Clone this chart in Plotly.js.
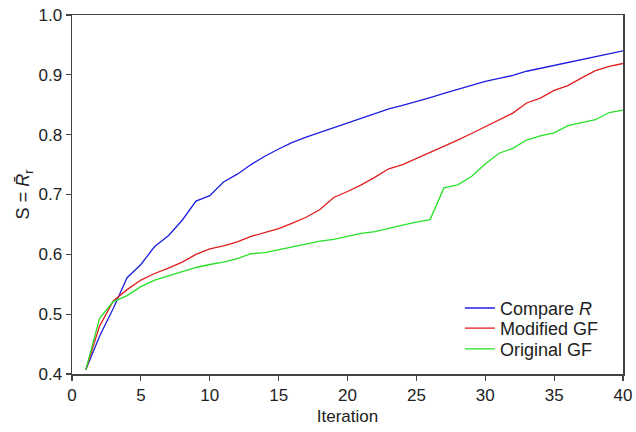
<!DOCTYPE html>
<html>
<head>
<meta charset="utf-8">
<script src="https://cdn.plot.ly/plotly-3.0.1.min.js"></script>
<style>html,body{margin:0;padding:0;background:#fff;}#chart{width:636px;height:432px;}</style>
</head>
<body>
<div id="chart"></div>
<script>
const iterations = [1,2,3,4,5,6,7,8,9,10,11,12,13,14,15,16,17,18,19,20,21,22,23,24,25,26,27,28,29,30,31,32,33,34,35,36,37,38,39,40];
const compareR = [0.407,0.463,0.510,0.561,0.583,0.613,0.631,0.657,0.689,0.698,0.721,0.734,0.750,0.764,0.776,0.787,0.796,0.804,0.812,0.820,0.828,0.835,0.843,0.849,0.855,0.862,0.869,0.876,0.883,0.889,0.894,0.899,0.906,0.911,0.916,0.921,0.926,0.930,0.935,0.940];
const modifiedGF = [0.407,0.480,0.522,0.541,0.557,0.568,0.577,0.587,0.600,0.609,0.614,0.621,0.630,0.636,0.643,0.652,0.662,0.675,0.695,0.705,0.716,0.729,0.743,0.750,0.760,0.771,0.781,0.791,0.802,0.813,0.825,0.836,0.853,0.861,0.874,0.882,0.895,0.907,0.914,0.919];
const originalGF = [0.407,0.493,0.521,0.531,0.546,0.557,0.564,0.571,0.578,0.583,0.587,0.593,0.601,0.603,0.608,0.612,0.618,0.622,0.625,0.630,0.635,0.638,0.644,0.649,0.654,0.658,0.711,0.716,0.730,0.751,0.769,0.777,0.791,0.798,0.803,0.815,0.820,0.825,0.837,0.841];
const seriesNames = ['Compare <i>R</i>','Modified GF','Original GF'];

const colors = ['rgb(30,30,225)','rgb(225,30,30)','rgb(40,225,40)'];
const legendIds = ['legend','legend2','legend3'];
const ys = [compareR, modifiedGF, originalGF];
const traces = ys.map((y,i)=>({
  x: iterations, y: y, type:'scatter', mode:'lines', name: seriesNames[i],
  legend: legendIds[i],
  line:{color:colors[i], width:1.3}
}));

const FONT = 'Liberation Sans, Arial, sans-serif';
const axisCommon = {
  showgrid:false, zeroline:false, showline:true, mirror:true,
  linecolor:'#444', linewidth:1.5, ticks:'outside', ticklen:5, tickwidth:1.2, tickcolor:'#444',
  tickfont:{family:FONT, size:17, color:'#222'}
};
const legendBase = {xanchor:'left', yanchor:'middle', bgcolor:'rgba(0,0,0,0)',
  font:{family:FONT, size:18, color:'#222'}, itemwidth:30, borderwidth:0};
const legendX = 0.704;
const legendYs = [0.183, 0.127, 0.069];
const layout = {
  width:636, height:432,
  margin:{l:72, r:13, t:15, b:58},
  paper_bgcolor:'#fff', plot_bgcolor:'#fff',
  font:{family:FONT, size:17, color:'#222'},
  xaxis: Object.assign({}, axisCommon, {
    range:[0,40], tickvals:[0,5,10,15,20,25,30,35,40],
    title:{text:'Iteration', font:{size:17}, standoff:6}
  }),
  yaxis: Object.assign({}, axisCommon, {
    range:[0.4,1.0], dtick:0.1, tick0:0.4, tickformat:'.1f',
    title:{text:'S = <i>R\u0304</i><sub>r</sub>', font:{size:18}, standoff:4}
  }),
  showlegend:true,
  legend: Object.assign({}, legendBase, {x:legendX, y:legendYs[0]}),
  legend2: Object.assign({}, legendBase, {x:legendX, y:legendYs[1]}),
  legend3: Object.assign({}, legendBase, {x:legendX, y:legendYs[2]})
};
Plotly.newPlot('chart', traces, layout, {displayModeBar:false, staticPlot:true});
</script>
</body>
</html>
